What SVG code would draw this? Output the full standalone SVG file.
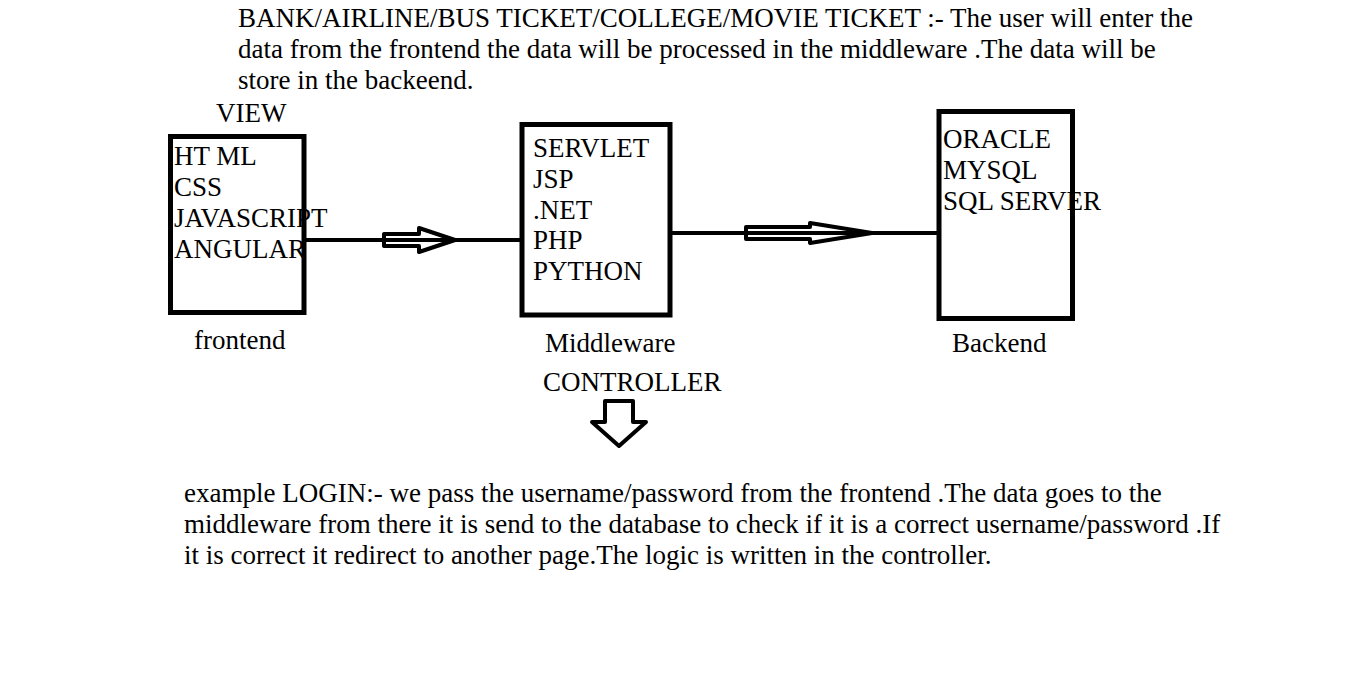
<svg xmlns="http://www.w3.org/2000/svg" width="1360" height="690" viewBox="0 0 1360 690">
<style>
text{font-family:"Liberation Serif","Times New Roman",serif;font-size:27px;fill:#000}
.box{fill:#fff;stroke:#000;stroke-width:5}
.conn{stroke:#000;stroke-width:4;fill:none}
.hollow{stroke:#000;stroke-width:4;fill:none;stroke-linejoin:round}
</style>
<rect width="1360" height="690" fill="#fff"/>
<g id="title">
<text x="238" y="27">BANK/AIRLINE/BUS TICKET/COLLEGE/MOVIE TICKET :- The user will enter the</text>
<text x="238" y="58">data from the frontend the data will be processed in the middleware .The data will be</text>
<text x="238" y="89">store in the backeend.</text>
</g>
<g id="connectors">
<line class="conn" x1="306" y1="240" x2="520" y2="240"/>
<polygon class="hollow" points="384,234 419,234 419,228 455,240 419,252 419,246 384,246"/>
<line class="conn" x1="672" y1="233" x2="937" y2="233"/>
<polygon class="hollow" points="746,227 810,227 810,223 872,233 810,243 810,239 746,239"/>
<polygon class="hollow" points="605,401 633,401 633,422 646,422 619,446 592,422 605,422"/>
</g>
<g id="frontend">
<text x="216" y="122">VIEW</text>
<rect class="box" x="170.5" y="136.5" width="133.5" height="176"/>
<text x="174" y="165">HT ML</text>
<text x="174" y="196">CSS</text>
<text x="174" y="227">JAVASCRIPT</text>
<text x="174" y="258">ANGULAR</text>
<text x="194" y="349">frontend</text>
</g>
<g id="middleware">
<rect class="box" x="522" y="124.5" width="148" height="190.5"/>
<text x="533" y="157">SERVLET</text>
<text x="533" y="188">JSP</text>
<text x="533" y="219">.NET</text>
<text x="533" y="249">PHP</text>
<text x="533" y="280">PYTHON</text>
<text x="545" y="352">Middleware</text>
<text x="543" y="391">CONTROLLER</text>
</g>
<g id="backend">
<rect class="box" x="939" y="111.5" width="133.5" height="207"/>
<text x="943" y="148">ORACLE</text>
<text x="943" y="179">MYSQL</text>
<text x="943" y="210">SQL SERVER</text>
<text x="952" y="352">Backend</text>
</g>
<g id="example">
<text x="184" y="502">example LOGIN:- we pass the username/password from the frontend .The data goes to the</text>
<text x="184" y="533">middleware from there it is send to the database to check if it is a correct username/password .If</text>
<text x="184" y="564">it is correct it redirect to another page.The logic is written in the controller.</text>
</g>
</svg>
